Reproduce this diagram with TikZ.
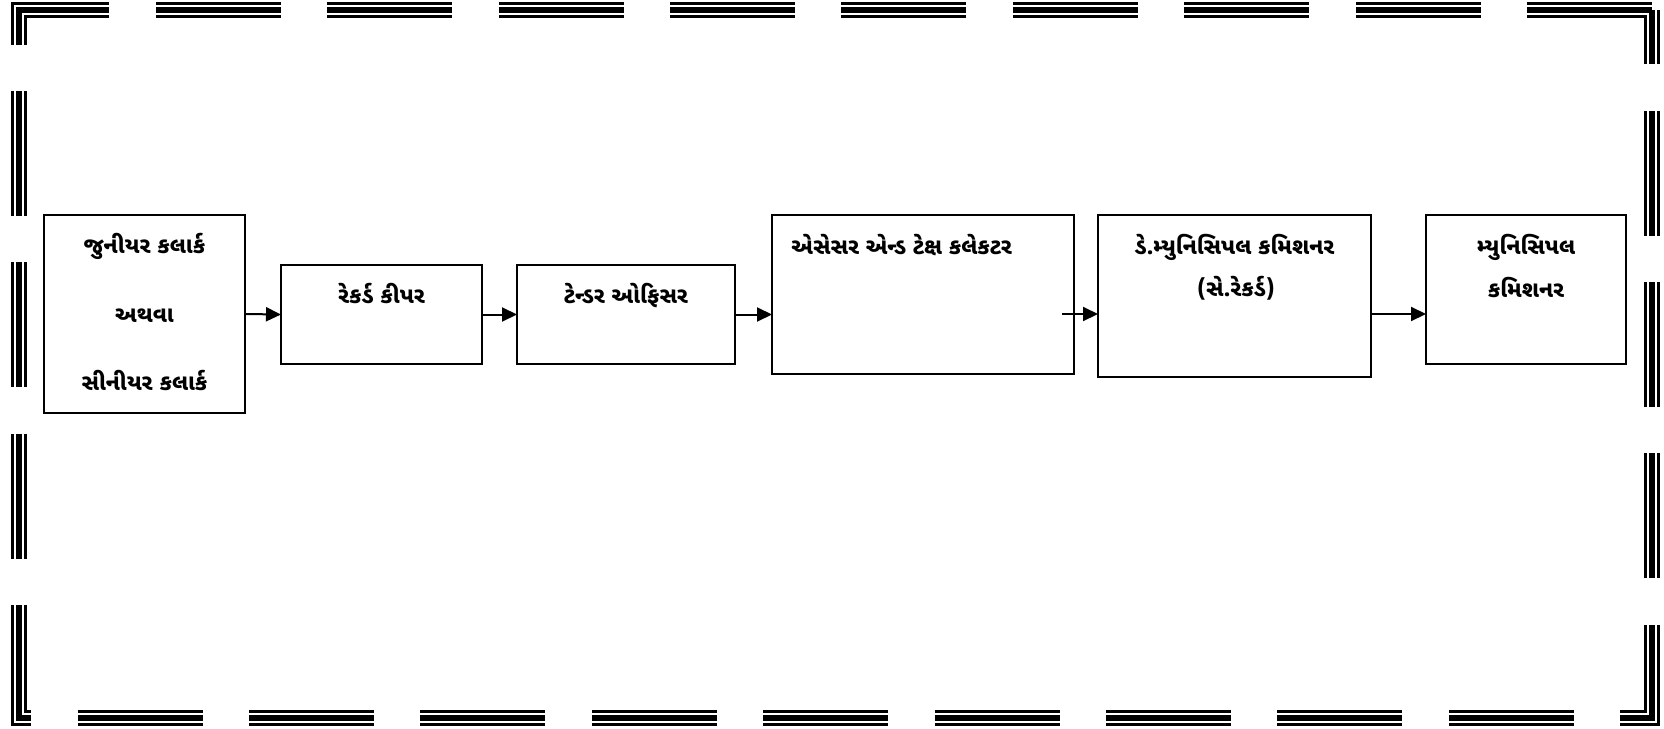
\documentclass[tikz,border=0pt]{standalone}
\usepackage{fontspec}
\newfontfamily\guj[Script=Gujarati]{Noto Sans Gujarati UI}
\usetikzlibrary{arrows.meta,calc}
\begin{document}
\begin{tikzpicture}[x=0.5pt,y=-0.5pt,
  box/.style={draw=black,line width=1pt,inner sep=0pt,outer sep=0pt},
  lbl/.style={font=\guj\bfseries\fontsize{11.3}{13.5}\selectfont,inner sep=0pt,anchor=base},
  conn/.style={line width=1pt,-{Triangle[length=7.5pt,width=7pt]}},
  frame/.style={dash pattern=on 62.5pt off 23.2pt,line cap=butt,line join=miter}]
\useasboundingbox (0,0) rectangle (1664,728);
% frame
\foreach \w/\c in {7.75pt/black,5.25pt/white,2.75pt/black}
  \draw[frame,line width=\w,draw=\c] (1652,10) -- (19,10) -- (19,718) -- (1652,718) -- (1652,10);
% boxes
\node[box,minimum width=100.5pt,minimum height=99pt] (A) at (144.5,314) {};
\node[box,minimum width=100.5pt,minimum height=49.5pt] (B) at (381.5,314.5) {};
\node[box,minimum width=109pt,minimum height=49.5pt] (C) at (626,314.5) {};
\node[box,minimum width=151pt,minimum height=79.5pt] (D) at (923,294.5) {};
\node[box,minimum width=136.5pt,minimum height=81pt] (E) at (1234.5,296) {};
\node[box,minimum width=100pt,minimum height=74.5pt] (F) at (1526,289.5) {};
% labels
\node[lbl] (a1) at (144.5,253) {જુનીયર કલાર્ક};
\node[lbl] (a2) at (144.5,322) {અથવા};
\node[lbl] (a3) at (144.5,390) {સીનીયર કલાર્ક};
\node[lbl] (b1) at (381.5,303) {રેકર્ડ કીપર};
\node[lbl] (c1) at (626,303) {ટેન્ડર ઓફિસર};
\node[lbl,anchor=base west] (d1) at (791,254) {એસેસર એન્ડ ટેક્ષ કલેકટર};
\node[lbl] (e1) at (1234.5,254) {ડે.મ્યુનિસિપલ કમિશનર};
\node[lbl] (e2) at (1236,296) {(સે.રેકર્ડ)};
\node[lbl] (f1) at (1526,254) {મ્યુનિસિપલ};
\node[lbl] (f2) at (1526,297) {કમિશનર};
% connectors
\coordinate (dE) at (1062,314);
\draw[conn] (A.east) -- (B.west);
\draw[conn] (B.east) -- (C.west);
\draw[conn] (C.east) -- (C.east -| D.west);
\draw[conn] (dE) -- (dE -| E.west);
\draw[conn] (E.east |- dE) -- (F.west |- dE);
\end{tikzpicture}
\end{document}
